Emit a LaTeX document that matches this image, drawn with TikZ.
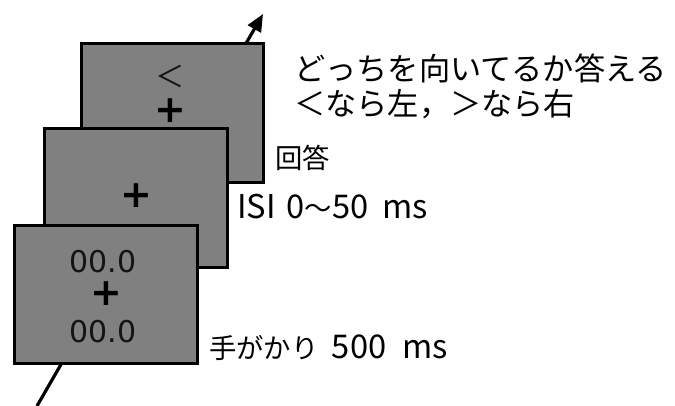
\documentclass[tikz,border=0pt]{standalone}
\usepackage{fontspec}
\setmainfont{Noto Sans CJK JP}
\newfontfamily\latinfont{DejaVu Sans}
\usetikzlibrary{arrows.meta}
\newcommand{\lat}[1]{{\fontsize{24.5}{24.5}\selectfont #1}}
\begin{document}
\begin{tikzpicture}[x=0.75pt,y=-0.75pt,
  frame/.style={draw=black,line width=2.2pt,fill={rgb,255:red,128;green,128;blue,128},minimum width=137pt,minimum height=104pt,inner sep=0pt},
  crossmark/.style={font=\latinfont\bfseries\fontsize{28.5}{28.5}\selectfont,inner sep=0pt,text height=16pt,text depth=-2pt},
  intext/.style={font=\latinfont\fontsize{22.5}{22.5}\selectfont,inner sep=0pt,text height=16pt,text depth=0pt,text={rgb,255:red,20;green,20;blue,20}},
  ltsign/.style={font=\fontsize{22}{22}\selectfont,inner sep=0pt,text={rgb,255:red,20;green,20;blue,20}},
  lbl/.style={font=\fontsize{20.5}{20.5}\selectfont,inner sep=0pt,anchor=west},
  mixlbl/.style={font=\fontsize{20.5}{20.5}\selectfont,inner sep=0pt,anchor=base west},
  big/.style={font=\fontsize{23.4}{23.4}\selectfont,inner sep=0pt,anchor=west}]
\useasboundingbox (0,0) rectangle (675,405);
% time arrow
\coordinate (tail) at (37,406);
\coordinate (head) at (263,14);
\draw[line width=2.4pt,-{Triangle[length=13pt,width=11pt]}] (tail) -- (head);
% frames
\node[frame] (resp) at (172.5,113) {};
\node[ltsign] (lt) at (170,76) {＜};
\node[crossmark] (c1) at (170,112) {+};
\node[frame] (isi) at (136,198) {};
\node[crossmark] (c2) at (136,197) {+};
\node[frame] (cue) at (106,294.5) {};
\node[intext] (n1) at (103,261.5) {00.0};
\node[crossmark] (c3) at (106,295) {+};
\node[intext] (n2) at (103,332) {00.0};
% labels
\node[big] (t1) at (294,68) {どっちを向いてるか答える};
\node[big] (t2) at (294,104) {＜なら左，＞なら右};
\node[lbl] (l1) at (275,158) {回答};
\node[mixlbl] (l2) at (237,218) {\lat{ISI\hspace{8pt}0}～\lat{50\hspace{10.5pt}ms}};
\node[mixlbl] (l3) at (209,358) {手がかり\lat{\hspace{10pt}500\hspace{12pt}ms}};
\end{tikzpicture}
\end{document}
